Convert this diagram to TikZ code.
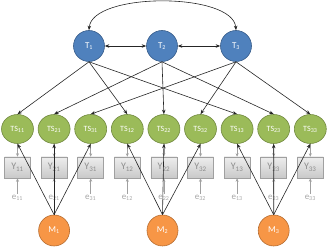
\documentclass[tikz,border=0pt]{standalone}
\usepackage{fontspec}
\setmainfont{Carlito}
\usetikzlibrary{arrows.meta}
\definecolor{tfill}{HTML}{4F81BD}
\definecolor{tline}{HTML}{385D8A}
\definecolor{gfill}{HTML}{9BBB59}
\definecolor{gline}{HTML}{71893F}
\definecolor{ofill}{HTML}{F79646}
\definecolor{oline}{HTML}{B66D31}
\definecolor{ytop}{HTML}{EDEDED}
\definecolor{ybot}{HTML}{C9C9C9}
\definecolor{yline}{HTML}{A0A0A0}
\definecolor{ytext}{HTML}{8C8C8C}
\definecolor{etext}{HTML}{A6A6A6}
\tikzset{
  trait/.style={circle, draw=tline, line width=0.6pt, fill=tfill, minimum size=31pt, inner sep=0pt, text=white, font=\fontsize{9}{10}\selectfont},
  meth/.style={circle, draw=oline, line width=0.6pt, fill=ofill, minimum size=31pt, inner sep=0pt, text=white, font=\fontsize{9}{10}\selectfont},
  tsnode/.style={ellipse, draw=gline, line width=0.6pt, fill=gfill, minimum width=32pt, minimum height=29pt, inner sep=0pt, text=white, font=\fontsize{8}{9}\selectfont},
  ybox/.style={rectangle, draw=yline, line width=0.5pt, top color=ytop, bottom color=ybot, minimum width=26pt, minimum height=21pt, inner sep=0pt, text=ytext, font=\fontsize{10}{11}\selectfont},
  elab/.style={text=etext, font=\fontsize{9}{10}\selectfont, inner sep=1pt},
  blk/.style={draw=black!85, line width=0.6pt, -{Stealth[length=4.5pt,width=3.5pt]}},
  dbl/.style={draw=black!85, line width=0.6pt, {Stealth[length=4.5pt,width=3.5pt]}-{Stealth[length=4.5pt,width=3.5pt]}},
  gry/.style={draw=yline, line width=0.7pt, -{Stealth[length=3.5pt,width=3pt]}}
}
\usetikzlibrary{shapes.geometric}
\begin{document}
\begin{tikzpicture}[x=1pt,y=-1pt]
\useasboundingbox (0,0) rectangle (330,248);
% traits
\node[trait] (T1) at (89,46) {T\textsubscript{1}};
\node[trait] (T2) at (162,46) {T\textsubscript{2}};
\node[trait] (T3) at (236,46) {T\textsubscript{3}};
% trait-specific
\foreach \lab/\i in {11/0,21/1,31/2,12/3,22/4,32/5,13/6,23/7,33/8}{
  \pgfmathsetmacro{\xx}{17.5+36.6*\i}
  \node[ybox] (Y\lab) at (\xx,167.5) {Y\textsubscript{\lab}};
  \node[elab] (e\lab) at (\xx,198) {e\textsubscript{\lab}};
  \draw[gry] (e\lab.north) -- (Y\lab.south);
}
\foreach \lab/\i in {11/0,21/1,31/2,12/3,22/4,32/5,13/6,23/7,33/8}{
  \pgfmathsetmacro{\xx}{17.5+36.6*\i}
  \node[tsnode] (TS\lab) at (\xx,129) {TS\textsubscript{\lab}};
  \draw[gry] (TS\lab.south) -- (Y\lab.north);
}
% methods
\node[meth] (M1) at (54.1,230.5) {M\textsubscript{1}};
\node[meth] (M2) at (162.5,230.5) {M\textsubscript{2}};
\node[meth] (M3) at (273.7,230.5) {M\textsubscript{3}};
% trait loadings
\foreach \t/\a/\b/\c in {1/11/12/13, 2/21/22/23, 3/31/32/33}{
  \draw[blk] (T\t.south) -- (TS\a.north);
  \draw[blk] (T\t.south) -- (TS\b.north);
  \draw[blk] (T\t.south) -- (TS\c.north);
}
% method loadings
\foreach \m/\a/\b/\c in {1/11/21/31, 2/12/22/32, 3/13/23/33}{
  \draw[blk] (M\m.north) -- (TS\a.south);
  \draw[blk] (M\m.north) -- (TS\b.south);
  \draw[blk] (M\m.north) -- (TS\c.south);
}
% correlations
\draw[dbl] (T1) -- (T2);
\draw[dbl] (T2) -- (T3);
\draw[dbl] (T1.north) .. controls (92,-8) and (233,-8) .. (T3.north);
\end{tikzpicture}
\end{document}
